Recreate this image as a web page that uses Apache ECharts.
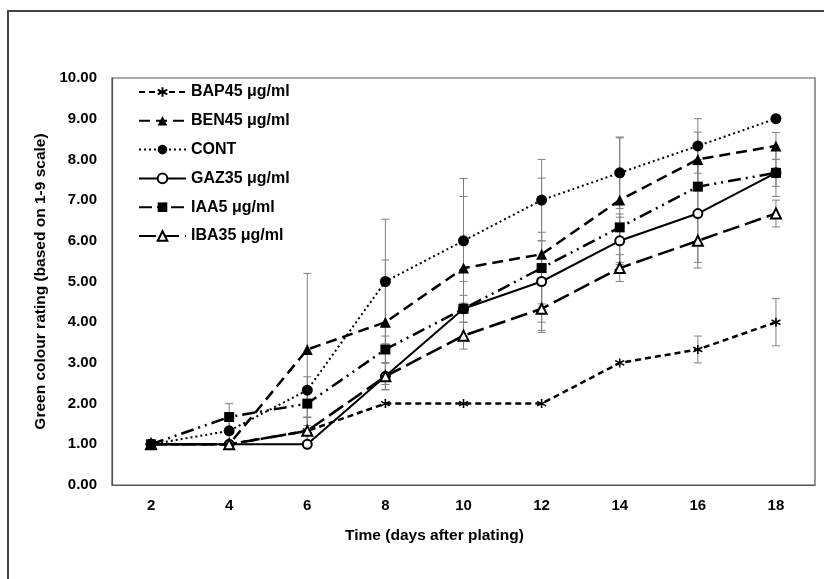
<!DOCTYPE html>
<html>
<head>
<meta charset="utf-8">
<script src="https://cdn.jsdelivr.net/npm/echarts@6/dist/echarts.min.js"></script>
<style>
  html, body { margin: 0; padding: 0; background: #fff; }
  #chart { width: 824px; height: 579px; }
</style>
</head>
<body>
<div id="chart"></div>
<script>
// days after plating
var days = ['2', '4', '6', '8', '10', '12', '14', '16', '18'];
var yTicks = [0, 1, 2, 3, 4, 5, 6, 7, 8, 9, 10];

var names = ['BAP45 μg/ml', 'BEN45 μg/ml', 'CONT', 'GAZ35 μg/ml', 'IAA5 μg/ml', 'IBA35 μg/ml'];

// mean ratings
var bap45 = [1, 1, 1.33, 2, 2, 2, 3, 3.33, 4];
var ben45 = [1, 1, 3.33, 4, 5.33, 5.67, 7, 8, 8.33];
var cont  = [1, 1.33, 2.33, 5, 6, 7, 7.67, 8.33, 9];
var gaz35 = [1, 1, 1, 2.67, 4.33, 5, 6, 6.67, 7.67];
var iaa5  = [1, 1.67, 2, 3.33, 4.33, 5.33, 6.33, 7.33, 7.67];
var iba35 = [1, 1, 1.33, 2.67, 3.67, 4.33, 5.33, 6, 6.67];

// error bar half-lengths
var bap45Err = [0, 0, 0.33, 0, 0, 0, 0, 0.33, 0.58];
var ben45Err = [0, 0, 1.87, 1.53, 1.76, 1.87, 1.53, 0.67, 0.33];
var contErr  = [0, 0.33, 0.33, 1.53, 1.53, 1, 0.88, 0.67, 0];
var gaz35Err = [0, 0, 0, 0.33, 0.67, 1, 0.58, 1.2, 0.58];
var iaa5Err  = [0, 0.33, 0.33, 0.33, 0.33, 0.88, 0.33, 0.67, 0.33];
var iba35Err = [0, 0, 0.33, 0.33, 0.33, 0.58, 0.33, 0.67, 0.33];

var means = [bap45, ben45, cont, gaz35, iaa5, iba35];
var errs = [bap45Err, ben45Err, contErr, gaz35Err, iaa5Err, iba35Err];

var styles = [
    { symbol: 'path://M5,0L5,10M0.67,2.5L9.33,7.5M0.67,7.5L9.33,2.5', size: 9, dash: [6, 4], width: 2.5, z: 3 },
    { symbol: 'triangle', size: 11, dash: [11, 6], width: 2.5, z: 3 },
    { symbol: 'circle', size: 11, dash: [2, 3], width: 2, z: 3 },
    { symbol: 'emptyCircle', size: 9, dash: 'solid', width: 2, z: 3 },
    { symbol: 'rect', size: 10, dash: [13, 5, 2, 5, 2, 5], width: 2.5, z: 5 },
    { symbol: 'emptyTriangle', size: 10, dash: [17, 6], width: 2.5, z: 4 }
];

var font = 'Liberation Sans, Arial, sans-serif';

function errorRows(m, e) {
    var rows = [];
    for (var i = 0; i < m.length; i++) {
        if (e[i] > 0) rows.push([i, m[i] - e[i], m[i] + e[i]]);
    }
    return rows;
}

function renderErr(params, api) {
    var lo = api.coord([api.value(0), api.value(1)]);
    var hi = api.coord([api.value(0), api.value(2)]);
    var w = 4;
    var st = { stroke: '#808080', lineWidth: 1 };
    return {
        type: 'group',
        children: [
            { type: 'line', shape: { x1: lo[0], y1: lo[1], x2: hi[0], y2: hi[1] }, style: st },
            { type: 'line', shape: { x1: lo[0] - w, y1: lo[1], x2: lo[0] + w, y2: lo[1] }, style: st },
            { type: 'line', shape: { x1: hi[0] - w, y1: hi[1], x2: hi[0] + w, y2: hi[1] }, style: st }
        ]
    };
}

var series = [];
for (var k = 0; k < names.length; k++) {
    series.push({
        name: names[k] + ' err',
        type: 'custom',
        renderItem: renderErr,
        data: errorRows(means[k], errs[k]),
        z: 1,
        silent: true
    });
}
for (var j = 0; j < names.length; j++) {
    var s = styles[j];
    var item = { color: '#000' };
    if (j === 0) { item.borderColor = '#000'; item.borderWidth = 1.6; }
    series.push({
        name: names[j],
        type: 'line',
        data: means[j],
        symbol: s.symbol,
        symbolSize: s.size,
        showAllSymbol: true,
        itemStyle: item,
        lineStyle: { color: '#000', width: s.width, type: s.dash },
        z: s.z
    });
}

var chart = echarts.init(document.getElementById('chart'));
chart.setOption({
    animation: false,
    backgroundColor: '#fff',
    textStyle: { fontFamily: font },
    grid: { left: 112, right: 9, top: 78, bottom: 94, show: true, borderColor: '#555', borderWidth: 1.2 },
    legend: {
        orient: 'vertical',
        left: 133,
        top: 79,
        itemWidth: 47,
        itemHeight: 12,
        itemGap: 12.8,
        data: names,
        textStyle: { fontFamily: font, fontWeight: 'bold', fontSize: 16, color: '#000' }
    },
    xAxis: {
        type: 'category',
        data: days,
        boundaryGap: true,
        name: 'Time (days after plating)',
        nameLocation: 'middle',
        nameGap: 43,
        nameTextStyle: { fontFamily: font, fontWeight: 'bold', fontSize: 15.5, color: '#000', padding: [0, 58, 0, 0] },
        axisLine: { lineStyle: { color: '#555', width: 1.2 } },
        axisTick: { show: false },
        axisLabel: { fontFamily: font, fontWeight: 'bold', fontSize: 15, color: '#000', margin: 13 }
    },
    yAxis: {
        type: 'value',
        min: yTicks[0],
        max: yTicks[yTicks.length - 1],
        interval: 1,
        name: 'Green colour rating (based on 1-9 scale)',
        nameLocation: 'middle',
        nameGap: 57,
        nameTextStyle: { fontFamily: font, fontWeight: 'bold', fontSize: 15.5, color: '#000' },
        axisLine: { show: true, lineStyle: { color: '#555', width: 1.2 } },
        axisTick: { show: false },
        splitLine: { show: false },
        axisLabel: {
            fontFamily: font, fontWeight: 'bold', fontSize: 15, color: '#000', margin: 15,
            formatter: function (v) { return v.toFixed(2); }
        }
    },
    graphic: [{
        type: 'rect',
        shape: { x: 8, y: 11, width: 830, height: 590 },
        style: { fill: 'none', stroke: '#444', lineWidth: 2 },
        silent: true
    }],
    series: series
});
</script>
</body>
</html>
